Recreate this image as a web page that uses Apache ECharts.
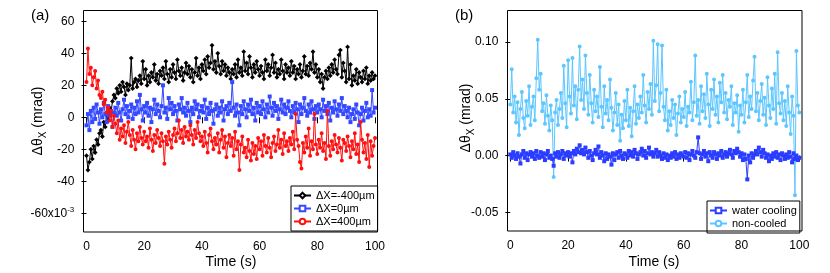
<!DOCTYPE html>
<html><head><meta charset="utf-8">
<script src="https://cdn.jsdelivr.net/npm/echarts@6/dist/echarts.min.js"></script>
<style>html,body{margin:0;padding:0;background:#fff}#c{width:830px;height:273px}</style>
</head><body><div id="c"></div><script>
// ---- data (time step 0.5 s, 0..100 s) ----
const timeStep = 0.5;
const xTicks = [0, 20, 40, 60, 80, 100];
const leftYTicks = [-60, -40, -20, 0, 20, 40, 60];
const rightYTicks = [-0.05, 0.00, 0.05, 0.10];
const leftNames = ['ΔX=-400µm', 'ΔX=0µm', 'ΔX=400µm'];
const rightNames = ['water cooling', 'non-cooled'];

const dxMinus400 = [
-24,-33,-28,-20,-26,-18,-22,-14,-17,-10,
-8,-12,-3,-6,2,-2,6,3,10,14,
12,18,15,20,16,22,19,14,21,17,
20,37,18,22,24,19,23,26,21,35,
24,30,20,26,22,28,25,33,23,27,
21,29,26,31,24,35,27,22,30,25,
33,28,24,36,29,26,31,23,28,34,
27,32,25,30,22,28,37,26,31,24,
33,29,36,27,38,31,34,45,30,35,
28,40,32,27,35,29,33,26,31,28,
24,30,27,33,25,36,28,31,26,41,
29,34,27,38,31,25,33,28,35,30,
26,32,28,24,36,29,33,26,31,39,
28,34,25,30,27,36,29,24,33,28,
31,26,35,28,32,24,30,27,33,25,
29,38,27,32,26,34,30,41,28,33,
25,30,22,27,18,25,29,24,31,26,
33,28,36,30,27,39,42,25,34,29,
22,44,24,33,20,26,23,30,21,28,
25,22,29,24,31,21,26,23,28,24,
26];
const dx0 = [
-5,2,-8,4,-3,6,-1,8,3,-4,
5,0,9,2,-3,7,1,4,-6,3,
6,1,9,3,-2,5,11,2,7,0,
4,8,-1,6,2,10,3,14,5,-2,
7,3,9,1,6,-3,5,11,2,8,
4,0,7,20,3,6,-1,12,5,9,
2,7,4,-2,8,5,12,3,6,1,
9,4,-3,6,2,10,5,8,0,4,
7,3,11,-1,6,2,9,4,-4,5,
8,1,6,3,10,-2,5,7,2,9,
4,22,6,1,8,3,-5,7,2,10,
5,0,8,4,11,2,6,-2,9,3,
7,2,10,5,0,8,3,13,6,1,
9,4,7,-1,5,11,3,8,2,6,
10,4,0,7,3,9,5,-3,8,2,
6,12,4,1,8,3,10,5,-1,7,
3,8,5,0,11,4,7,2,9,-2,
6,3,10,5,1,8,4,12,2,7,
4,0,6,-3,2,5,-1,8,3,-5,
2,6,-2,4,9,0,5,1,17,3,
6];
const dxPlus400 = [
22,43,27,31,20,25,29,18,23,14,
12,16,8,11,3,6,-2,4,-6,1,
-4,-10,-2,-14,-7,-12,-5,-16,-9,-3,
-11,-18,-8,-14,-20,-10,-15,-6,-13,-17,
-9,-15,-12,-19,-7,-14,-21,-11,-16,-8,
-13,-18,-10,-15,-29,-12,-17,-9,-14,-19,
-11,-7,-15,-10,-2,-13,-8,-16,-6,-12,
-9,-14,-5,-11,-17,-8,-13,-3,-10,-15,
-12,-18,-9,-16,-22,-11,-7,-15,-20,-13,
-17,-10,-22,-14,-8,-19,-12,-25,-16,-11,
-18,-13,-24,-9,-20,-15,-33,-17,-12,-22,
-19,-25,-14,-21,-27,-16,-23,-18,-26,-13,
-20,-15,-24,-11,-18,-22,-13,-19,-25,-16,
-12,-21,-17,-8,-19,-14,-23,-10,-18,-15,
-21,-13,-17,-9,-20,2,-14,-18,-28,-32,
-16,-22,-12,-19,-7,-24,-15,-20,2,-17,
-23,-14,-19,-10,-21,-16,-26,4,-18,-24,
-15,-20,-11,-17,-22,-13,-19,-27,-14,-16,
-21,-12,-18,-25,-15,-20,-10,-23,-17,-28,
-3,-14,-22,-16,-26,-11,-31,-15,-24,-18,
-13];
const waterCooling = [
0.001,-0.002,0.003,0.000,-0.003,0.002,-0.001,-0.007,0.001,0.004,
-0.002,0.002,-0.004,0.001,0.003,-0.001,0.002,-0.003,0.004,0.000,
-0.002,0.003,-0.001,0.002,-0.004,0.001,0.004,-0.002,0.000,-0.003,
-0.009,0.002,-0.001,0.003,-0.002,0.001,0.004,-0.003,0.002,0.000,
0.003,-0.001,0.002,-0.006,0.004,0.001,0.006,0.003,0.009,0.002,
0.005,0.001,0.007,0.003,-0.002,0.004,0.000,-0.004,0.002,0.005,
0.001,0.008,-0.002,0.003,0.000,-0.005,0.002,-0.003,0.001,-0.001,
-0.008,0.002,-0.004,0.001,0.003,-0.002,0.004,0.000,-0.003,0.002,
0.001,-0.002,0.004,0.000,0.003,-0.001,0.005,0.002,-0.003,0.001,
0.003,0.006,0.000,0.004,-0.002,0.002,0.007,0.001,0.003,-0.001,
0.002,0.005,-0.001,0.003,0.000,-0.003,0.002,-0.002,0.001,-0.004,
0.000,-0.002,0.002,-0.001,0.003,-0.003,0.001,-0.002,0.002,0.000,
-0.001,0.003,-0.002,0.002,-0.004,0.001,0.004,0.000,-0.002,0.003,
0.016,0.002,-0.003,0.001,0.004,-0.001,0.002,-0.005,0.003,0.000,
-0.002,0.003,0.001,-0.003,0.002,0.000,0.004,-0.002,0.001,0.003,
-0.001,0.002,0.005,0.001,-0.002,0.004,0.002,0.006,0.003,-0.001,
0.002,-0.004,0.001,-0.003,-0.021,0.000,-0.006,0.002,-0.002,0.001,
0.004,0.001,0.007,0.003,-0.001,0.005,0.002,-0.002,0.001,-0.005,
0.000,-0.003,0.002,-0.001,0.003,-0.002,0.001,-0.004,0.002,0.000,
-0.003,0.001,-0.002,0.003,-0.001,-0.006,0.002,-0.003,0.000,-0.004,
-0.002];
const nonCooled = [
0.045,0.076,0.038,0.052,0.029,0.047,0.018,0.041,0.056,0.033,
0.024,0.048,0.035,0.061,0.027,0.043,0.052,0.031,0.068,0.102,
0.058,0.072,0.039,0.046,0.028,0.053,0.035,0.022,0.044,0.031,
-0.019,0.038,0.049,0.027,0.041,0.055,0.033,0.079,0.046,0.025,
0.084,0.052,0.037,0.086,0.044,0.061,0.032,0.058,0.096,0.049,
0.067,0.041,0.088,0.055,0.036,0.071,0.046,0.029,0.058,0.039,
0.052,0.034,0.078,0.043,0.025,0.061,0.037,0.049,0.031,0.067,
0.042,0.022,0.038,0.055,0.027,0.045,0.013,0.036,0.024,0.048,
0.031,0.058,0.026,0.042,0.017,0.039,0.061,0.028,0.045,0.033,
0.052,0.038,0.071,0.044,0.029,0.056,0.041,0.063,0.036,0.101,
0.048,0.062,0.098,0.039,0.055,0.097,0.043,0.031,0.058,0.022,
0.039,0.027,0.049,0.033,0.045,0.018,0.037,0.052,0.029,0.041,
0.034,0.056,0.026,0.043,0.038,0.065,0.031,0.047,0.088,0.035,
0.049,0.028,0.061,0.039,0.054,0.033,0.072,0.045,0.026,0.058,
0.041,0.067,0.036,0.052,0.029,0.064,0.047,0.071,0.038,0.055,
0.032,0.049,0.043,0.061,0.027,0.046,0.038,0.053,0.021,0.044,
0.036,0.058,0.029,0.047,0.071,0.034,0.052,0.041,0.066,0.087,
0.039,0.055,0.031,0.048,0.063,0.036,0.051,0.027,0.069,0.044,
0.033,0.059,0.041,0.072,0.028,0.091,0.046,0.037,0.055,0.031,
0.048,0.026,0.061,0.038,0.019,0.052,0.035,-0.035,0.092,0.044,
0.038];

// ---- build ----
const FONT = "'Liberation Sans', Arial, Helvetica, sans-serif";
const pairs = arr => arr.map((v, i) => [i * timeStep, v]);

function xAx(gi) {
  return {
    gridIndex: gi, type: 'value', min: xTicks[0], max: xTicks[xTicks.length - 1],
    interval: xTicks[1] - xTicks[0], offset: 18.7,
    axisLine: { show: false },
    axisTick: { show: true, inside: false, length: 6, lineStyle: { color: '#000', width: 1 } },
    axisLabel: { margin: 9, fontSize: 12, color: '#000', fontFamily: FONT },
    splitLine: { show: false }
  };
}
function yAx(gi, ticks, offset, fmt) {
  return {
    gridIndex: gi, type: 'value', min: ticks[0], max: ticks[ticks.length - 1],
    interval: ticks[1] - ticks[0], offset: offset,
    axisLine: { show: false },
    axisTick: { show: true, inside: false, length: 5, lineStyle: { color: '#000', width: 1 } },
    axisLabel: {
      margin: 9, fontSize: 12, color: '#000', fontFamily: FONT, formatter: fmt,
      rich: { sup: { fontSize: 8, fontFamily: FONT, color: '#000', verticalAlign: 'top', lineHeight: 16 } }
    },
    splitLine: { show: false }
  };
}
function ser(name, arr, xi, color, symbol, z) {
  return {
    name: name, type: 'line', xAxisIndex: xi, yAxisIndex: xi, data: pairs(arr),
    symbol: symbol, symbolSize: 2, showAllSymbol: true, clip: false,
    lineStyle: { color: color, width: 1 },
    itemStyle: { color: color, borderColor: color, borderWidth: 0.8 },
    z: z, animation: false
  };
}
const legendCommon = {
  orient: 'vertical', backgroundColor: '#fff', borderColor: '#000', borderWidth: 1,
  borderRadius: 0, itemGap: 2, itemWidth: 17, itemHeight: 7,
  textStyle: { fontSize: 11, fontFamily: FONT, color: '#000', lineHeight: 10 }
};

const chart = echarts.init(document.getElementById('c'), null, { renderer: 'canvas' });
chart.setOption({
  animation: false,
  backgroundColor: '#fff',
  grid: [
    { left: 86.5, top: 21.3, width: 288.5, height: 192, containLabel: false },
    { left: 510.3, top: 42, width: 289, height: 170.3, containLabel: false }
  ],
  xAxis: [xAx(0), xAx(1)],
  yAxis: [
    yAx(0, leftYTicks, 3.2, v => v === -60 ? '-60x10{sup|-3}' : String(v)),
    yAx(1, rightYTicks, 3, v => (Math.abs(v) < 1e-9 ? 0 : v).toFixed(2))
  ],
  legend: [
    Object.assign({}, legendCommon, { data: leftNames, left: 291, top: 186, padding: [4, 3, 4, 2] }),
    Object.assign({}, legendCommon, { data: rightNames, left: 707, top: 201, padding: [4, 3, 4, 2] })
  ],
  series: [
    ser(leftNames[0], dxMinus400, 0, '#000000', 'emptyDiamond', 2),
    ser(leftNames[1], dx0, 0, '#3348ff', 'emptyRect', 3),
    ser(leftNames[2], dxPlus400, 0, '#ff1010', 'emptyCircle', 4),
    ser(rightNames[1], nonCooled, 1, '#5cc6ff', 'emptyCircle', 2),
    ser(rightNames[0], waterCooling, 1, '#2a3cff', 'emptyRect', 3)
  ],
  graphic: [
    { type: 'rect', shape: { x: 83.5, y: 10.5, width: 294, height: 221.5 }, style: { fill: 'none', stroke: '#000', lineWidth: 1 }, z: 10, silent: true },
    { type: 'rect', shape: { x: 507.5, y: 10.5, width: 294.5, height: 220.5 }, style: { fill: 'none', stroke: '#000', lineWidth: 1 }, z: 10, silent: true },
    { type: 'text', left: 31, top: 8, style: { text: '(a)', fontSize: 15, fontFamily: FONT, fill: '#000' } },
    { type: 'text', left: 455, top: 8, style: { text: '(b)', fontSize: 15, fontFamily: FONT, fill: '#000' } },
    { type: 'text', x: 38, y: 121, rotation: Math.PI / 2,
      style: { text: 'Δθ{sub|X} (mrad)', align: 'center', verticalAlign: 'middle', fontSize: 14, fontFamily: FONT, fill: '#000',
        rich: { sub: { fontSize: 10, fontFamily: FONT, fill: '#000', verticalAlign: 'bottom', lineHeight: 20 } } } },
    { type: 'text', x: 466, y: 118, rotation: Math.PI / 2,
      style: { text: 'Δθ{sub|X} (mrad)', align: 'center', verticalAlign: 'middle', fontSize: 14, fontFamily: FONT, fill: '#000',
        rich: { sub: { fontSize: 10, fontFamily: FONT, fill: '#000', verticalAlign: 'bottom', lineHeight: 20 } } } },
    { type: 'text', x: 231, y: 262, style: { text: 'Time (s)', align: 'center', verticalAlign: 'middle', fontSize: 14, fontFamily: FONT, fill: '#000' } },
    { type: 'text', x: 654, y: 262, style: { text: 'Time (s)', align: 'center', verticalAlign: 'middle', fontSize: 14, fontFamily: FONT, fill: '#000' } }
  ]
});
</script></body></html>
